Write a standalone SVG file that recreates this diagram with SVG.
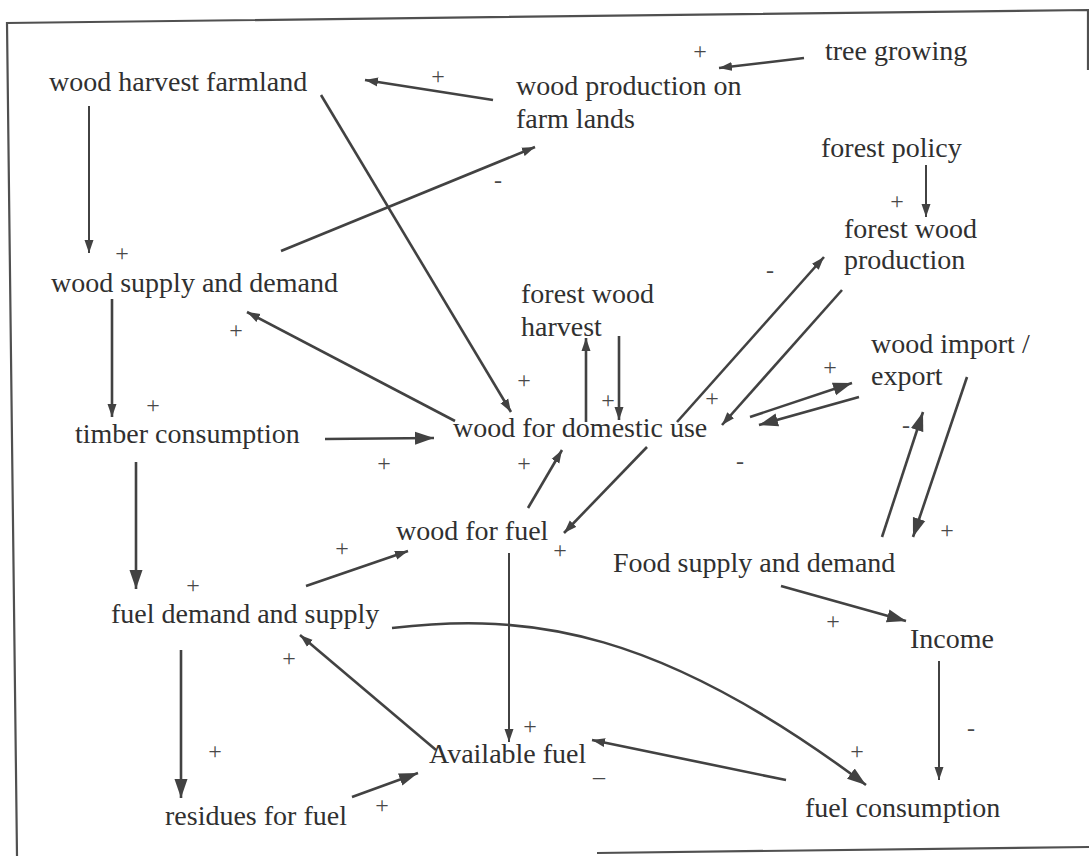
<svg xmlns="http://www.w3.org/2000/svg" width="1089" height="856" viewBox="0 0 1089 856">
<style>
.n{font-family:"Liberation Serif","Times New Roman",serif;font-size:28px;fill:#303030}
.s{font-family:"Liberation Serif","Times New Roman",serif;font-size:24px;fill:#484848;text-anchor:middle}
.c{fill:none;stroke:#424242;stroke-width:2.6}
.c.t{stroke-width:2}
.fr{fill:none;stroke:#505050;stroke-width:2.2}
</style>
<defs>
<marker id="a" markerUnits="userSpaceOnUse" markerWidth="14" markerHeight="10" refX="13" refY="5" orient="auto"><path d="M0,0.5 L13,5 L0,9.5 z" fill="#424242"/></marker>
<marker id="b" markerUnits="userSpaceOnUse" markerWidth="20" markerHeight="14" refX="19" refY="7" orient="auto"><path d="M0,0.5 L19,7 L0,13.5 z" fill="#424242"/></marker>
</defs>
<g id="frame">
<path class="fr" d="M17,856 L7,23 L1088,10 L1088,70"/>
<path class="fr" d="M597,853 L1089,847"/>
</g>
<g id="connectors">
<path class="c" d="M493,100 L365,80" marker-end="url(#a)"/>
<path class="c" d="M804,58 L719,68" marker-end="url(#a)"/>
<path class="c t" d="M89,106 L89,253" marker-end="url(#a)"/>
<path class="c" d="M281,251 L535,147" marker-end="url(#a)"/>
<path class="c" d="M321,95 L511,412" marker-end="url(#a)"/>
<path class="c" d="M112,299 L112,417" marker-end="url(#a)"/>
<path class="c" d="M455,421 L247,312" marker-end="url(#a)"/>
<path class="c" d="M586,422 L586,338" marker-end="url(#a)"/>
<path class="c" d="M619,336 L619,420" marker-end="url(#a)"/>
<path class="c t" d="M926,165 L926,217" marker-end="url(#a)"/>
<path class="c" d="M677,422 L824,257" marker-end="url(#a)"/>
<path class="c" d="M842,290 L722,425" marker-end="url(#a)"/>
<path class="c" d="M750,417 L852,383" marker-end="url(#b)"/>
<path class="c" d="M859,397 L759,425" marker-end="url(#b)"/>
<path class="c" d="M967,377 L913,537" marker-end="url(#b)"/>
<path class="c" d="M882,537 L923,412" marker-end="url(#b)"/>
<path class="c" d="M325,439 L434,438" marker-end="url(#b)"/>
<path class="c" d="M528,508 L562,450" marker-end="url(#a)"/>
<path class="c" d="M647,447 L564,533" marker-end="url(#a)"/>
<path class="c" d="M136,462 L136,589" marker-end="url(#b)"/>
<path class="c" d="M306,586 L408,551" marker-end="url(#a)"/>
<path class="c t" d="M509,553 L509,742" marker-end="url(#a)"/>
<path class="c" d="M392,628 C530,612 660,630 866,785" marker-end="url(#b)"/>
<path class="c" d="M436,750 L300,635" marker-end="url(#a)"/>
<path class="c" d="M181,650 L181,798" marker-end="url(#b)"/>
<path class="c" d="M352,797 L418,773" marker-end="url(#b)"/>
<path class="c" d="M781,586 L906,621" marker-end="url(#b)"/>
<path class="c t" d="M939,661 L939,780" marker-end="url(#a)"/>
<path class="c" d="M786,780 L592,740" marker-end="url(#a)"/>
</g>
<g id="signs">
<text class="s" x="438" y="84">+</text>
<text class="s" x="700" y="59">+</text>
<text class="s" x="122" y="261">+</text>
<text class="s" x="897" y="209">+</text>
<text class="s" x="236" y="338">+</text>
<text class="s" x="153" y="413">+</text>
<text class="s" x="524" y="388">+</text>
<text class="s" x="608" y="408">+</text>
<text class="s" x="712" y="406">+</text>
<text class="s" x="830" y="375">+</text>
<text class="s" x="384" y="471">+</text>
<text class="s" x="524" y="471">+</text>
<text class="s" x="342" y="556">+</text>
<text class="s" x="560" y="558">+</text>
<text class="s" x="947" y="538">+</text>
<text class="s" x="193" y="593">+</text>
<text class="s" x="289" y="666">+</text>
<text class="s" x="833" y="629">+</text>
<text class="s" x="530" y="734">+</text>
<text class="s" x="857" y="759">+</text>
<text class="s" x="215" y="759">+</text>
<text class="s" x="382" y="813">+</text>
<text class="s" x="498" y="188">-</text>
<text class="s" x="770" y="278">-</text>
<text class="s" x="740" y="469">-</text>
<text class="s" x="906" y="433">-</text>
<text class="s" x="971" y="736">-</text>
<text class="s" x="599" y="784">–</text>
</g>
<g id="wood-harvest-farmland"><text class="n" x="49" y="91">wood harvest farmland</text></g>
<g id="wood-production-farm"><text class="n" x="516" y="95">wood production on</text><text class="n" x="516" y="128">farm lands</text></g>
<g id="tree-growing"><text class="n" x="825" y="60">tree growing</text></g>
<g id="forest-policy"><text class="n" x="821" y="157">forest policy</text></g>
<g id="forest-wood-production"><text class="n" x="844" y="238">forest wood</text><text class="n" x="844" y="269">production</text></g>
<g id="wood-supply-demand"><text class="n" x="51" y="292">wood supply and demand</text></g>
<g id="forest-wood-harvest"><text class="n" x="521" y="303">forest wood</text><text class="n" x="521" y="336">harvest</text></g>
<g id="wood-import-export"><text class="n" x="871" y="353">wood import /</text><text class="n" x="871" y="385">export</text></g>
<g id="timber-consumption"><text class="n" x="75" y="443">timber consumption</text></g>
<g id="wood-domestic-use"><text class="n" x="453" y="437">wood for domestic use</text></g>
<g id="wood-for-fuel"><text class="n" x="396" y="540">wood for fuel</text></g>
<g id="food-supply-demand"><text class="n" x="613" y="572">Food supply and demand</text></g>
<g id="fuel-demand-supply"><text class="n" x="111" y="623">fuel demand and supply</text></g>
<g id="income"><text class="n" x="910" y="648">Income</text></g>
<g id="available-fuel"><text class="n" x="429" y="763">Available fuel</text></g>
<g id="fuel-consumption"><text class="n" x="805" y="817">fuel consumption</text></g>
<g id="residues-for-fuel"><text class="n" x="165" y="825">residues for fuel</text></g>
</svg>
